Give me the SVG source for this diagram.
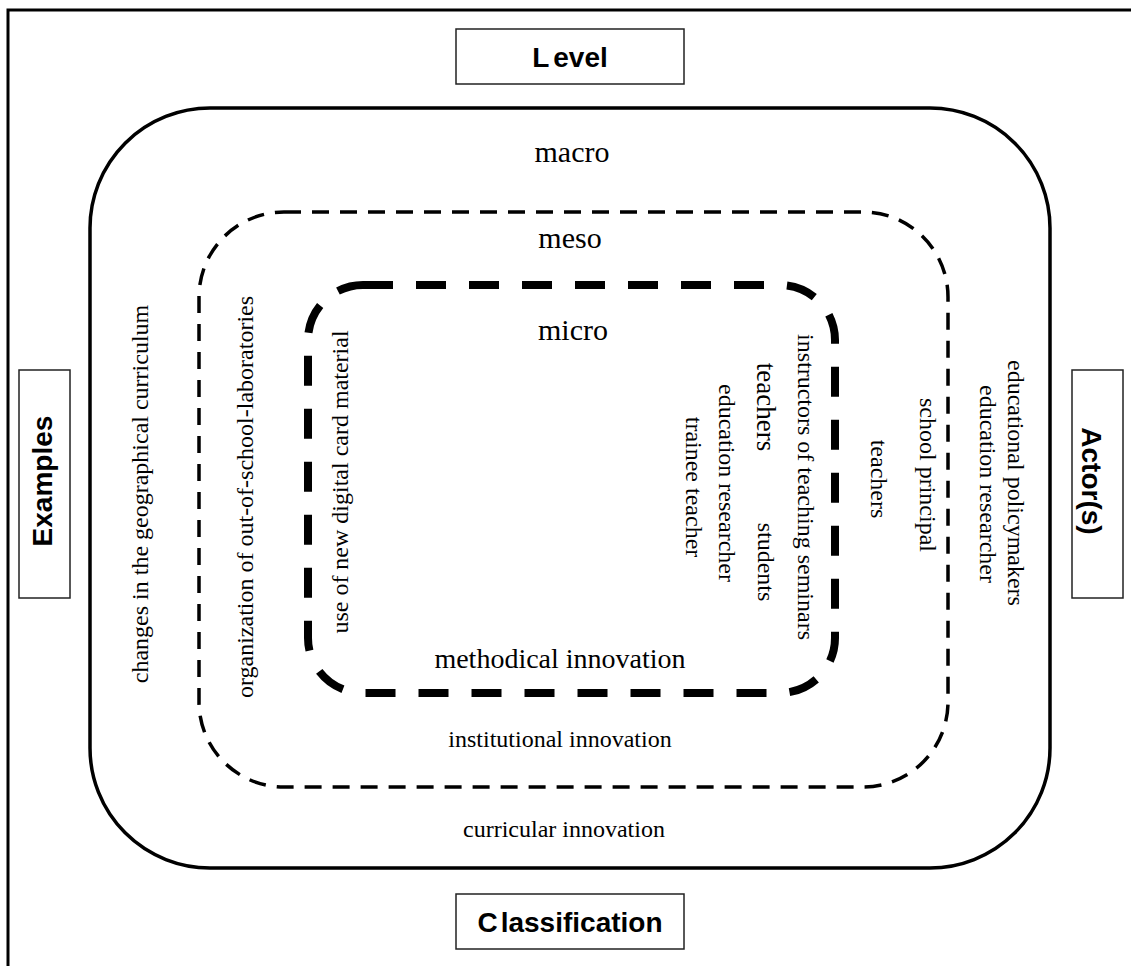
<svg xmlns="http://www.w3.org/2000/svg" width="1131" height="966" viewBox="0 0 1131 966">
<style>
.t{font-family:"Liberation Serif","Times New Roman",serif;fill:#000}
.b{font-family:"Liberation Sans",Arial,sans-serif;font-weight:bold;font-size:28px;fill:#000}
.box{fill:#fff;stroke:#222;stroke-width:1.5}
.m{text-anchor:middle}
</style>
<rect x="0" y="0" width="1131" height="966" fill="#fff"/>
<rect id="frame" x="8" y="10" width="1130" height="965" fill="none" stroke="#000" stroke-width="3"/>
<g id="connectors"/>
<g id="macro">
<rect x="90" y="108" width="960" height="760" rx="120" ry="120" fill="none" stroke="#000" stroke-width="3.5"/>
<text class="t m" x="572" y="162" font-size="30">macro</text>
<text class="t m" x="564" y="837" font-size="24">curricular innovation</text>
</g>
<g id="meso">
<rect x="199" y="212" width="749" height="575" rx="85" ry="85" fill="none" stroke="#000" stroke-width="3.5" stroke-dasharray="17 11"/>
<text class="t m" x="570" y="248" font-size="30">meso</text>
<text class="t m" x="560" y="747" font-size="24">institutional innovation</text>
</g>
<g id="micro">
<rect x="308" y="285" width="527" height="408" rx="55" ry="55" fill="none" stroke="#000" stroke-width="8" stroke-dasharray="30 23"/>
<text class="t m" x="573" y="340" font-size="30">micro</text>
<text class="t m" x="560" y="668" font-size="28">methodical innovation</text>
</g>
<g id="examples-texts">
<text class="t m" font-size="24" transform="translate(148,494) rotate(-90)">changes in the geographical curriculum</text>
<text class="t m" font-size="24" transform="translate(253,497) rotate(-90)">organization of out-of-school-laboratories</text>
<text class="t m" font-size="24" transform="translate(348,482) rotate(-90)">use of new digital card material</text>
</g>
<g id="actor-texts">
<text class="t m" font-size="24" transform="translate(1008,483) rotate(90)">educational policymakers</text>
<text class="t m" font-size="24" transform="translate(980,484) rotate(90)">education researcher</text>
<text class="t m" font-size="24" transform="translate(920,475) rotate(90)">school principal</text>
<text class="t m" font-size="24" transform="translate(871,479) rotate(90)">teachers</text>
<text class="t m" font-size="24" transform="translate(798,487) rotate(90)">instructors of teaching seminars</text>
<text class="t m" font-size="27" transform="translate(757,407) rotate(90)">teachers</text>
<text class="t m" font-size="24" transform="translate(758,562) rotate(90)">students</text>
<text class="t m" font-size="24" transform="translate(719,483) rotate(90)">education researcher</text>
<text class="t m" font-size="24" transform="translate(686,487) rotate(90)">trainee teacher</text>
</g>
<g id="level">
<rect class="box" x="456" y="29" width="228" height="55"/>
<text class="b m" x="570" y="67">L<tspan dx="4">evel</tspan></text>
</g>
<g id="classification">
<rect class="box" x="456" y="894" width="228" height="55"/>
<text class="b m" x="570" y="932">C<tspan dx="3">lassification</tspan></text>
</g>
<g id="examples">
<rect class="box" x="19" y="370" width="51" height="228"/>
<text class="b m" transform="translate(52,481) rotate(-90)">Examples</text>
</g>
<g id="actors">
<rect class="box" x="1072" y="370" width="51" height="228"/>
<text class="b m" transform="translate(1082,481) rotate(90)">Actor(s)</text>
</g>
</svg>
